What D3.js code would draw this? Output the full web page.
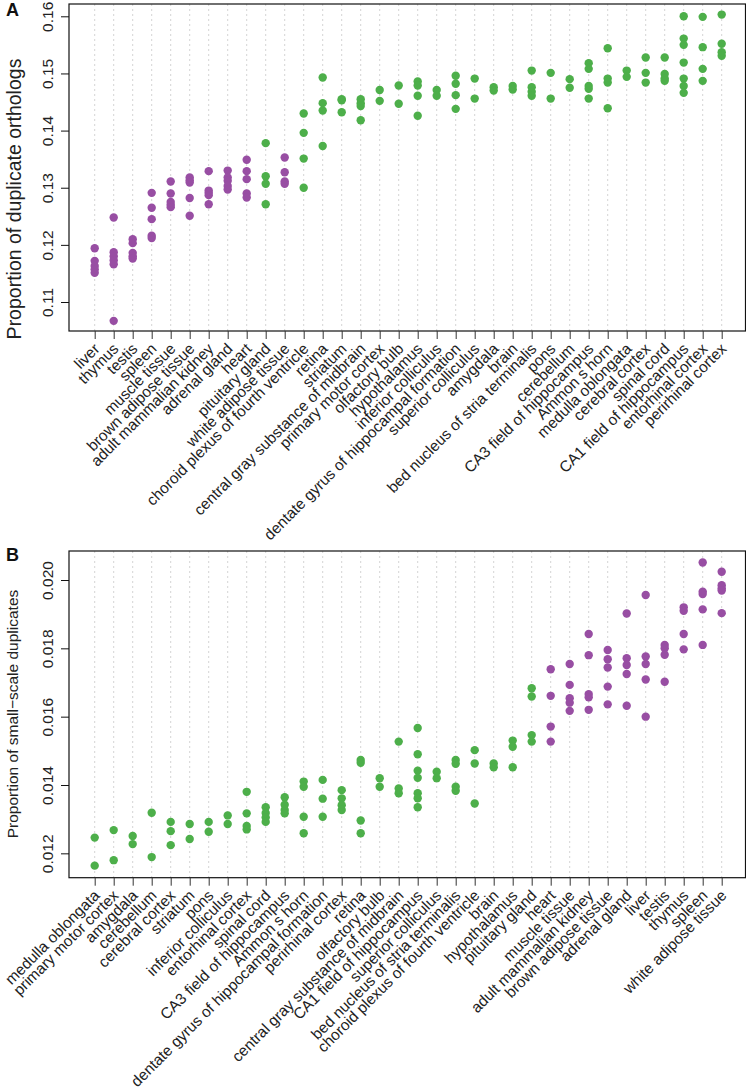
<!DOCTYPE html>
<html><head><meta charset="utf-8">
<script src="https://cdn.jsdelivr.net/npm/d3@7"></script>
<style>body{margin:0;background:#fff}svg{display:block}text{font-family:"Liberation Sans",Arial,Helvetica,sans-serif}</style>
</head><body>
<svg id="chart" width="746" height="1090"></svg>
<script>
// ---------- Panel A data ----------
const catsA = ["liver","thymus","testis","spleen","muscle tissue","brown adipose tissue","adult mammalian kidney","adrenal gland","heart","pituitary gland","white adipose tissue","choroid plexus of fourth ventricle","retina","striatum","central gray substance of midbrain","primary motor cortex","olfactory bulb","hypothalamus","inferior colliculus","dentate gyrus of hippocampal formation","superior colliculus","amygdala","brain","bed nucleus of stria terminalis","pons","cerebellum","CA3 field of hippocampus","Ammon s horn","medulla oblongata","cerebral cortex","spinal cord","CA1 field of hippocampus","entorhinal cortex","perirhinal cortex"];
const groupA = ["o","o","o","o","o","o","o","o","o","n","o","n","n","n","n","n","n","n","n","n","n","n","n","n","n","n","n","n","n","n","n","n","n","n"];
const valuesA = [
  [0.1194,0.1172,0.1163,0.1157,0.1151],
  [0.1248,0.1187,0.1180,0.1173,0.1166,0.1067],
  [0.1210,0.1203,0.1186,0.1180,0.1176],
  [0.1291,0.1265,0.1245,0.1216,0.1212],
  [0.1311,0.1290,0.1275,0.1270,0.1266],
  [0.1318,0.1313,0.1309,0.1282,0.1251],
  [0.1329,0.1295,0.1291,0.1287,0.1271],
  [0.1330,0.1318,0.1312,0.1303,0.1297],
  [0.1349,0.1329,0.1315,0.1290,0.1283],
  [0.1378,0.1320,0.1307,0.1271],
  [0.1353,0.1327,0.1311,0.1307],
  [0.1430,0.1396,0.1351,0.1300],
  [0.1493,0.1448,0.1435,0.1373],
  [0.1455,0.1453,0.1432],
  [0.1455,0.1448,0.1443,0.1418],
  [0.1471,0.1452],
  [0.1479,0.1447],
  [0.1486,0.1479,0.1461,0.1426],
  [0.1471,0.1461],
  [0.1496,0.1482,0.1462,0.1438],
  [0.1491,0.1456],
  [0.1476,0.1470],
  [0.1478,0.1472],
  [0.1505,0.1476,0.1468,0.1461],
  [0.1501,0.1456],
  [0.1490,0.1475],
  [0.1518,0.1508,0.1478,0.1473,0.1456],
  [0.1544,0.1491,0.1484,0.1439],
  [0.1505,0.1494],
  [0.1528,0.1501,0.1484],
  [0.1528,0.1499,0.1491,0.1487],
  [0.1600,0.1561,0.1550,0.1519,0.1491,0.1478,0.1466],
  [0.1599,0.1546,0.1508,0.1487],
  [0.1603,0.1552,0.1537,0.1531]
];
const ticksA = [0.11,0.12,0.13,0.14,0.15,0.16];
const titleA = "Proportion of duplicate orthologs";

// ---------- Panel B data ----------
const catsB = ["medulla oblongata","primary motor cortex","amygdala","cerebellum","cerebral cortex","striatum","pons","inferior colliculus","entorhinal cortex","spinal cord","CA3 field of hippocampus","Ammon s horn","dentate gyrus of hippocampal formation","perirhinal cortex","retina","olfactory bulb","central gray substance of midbrain","CA1 field of hippocampus","superior colliculus","bed nucleus of stria terminalis","choroid plexus of fourth ventricle","brain","hypothalamus","pituitary gland","heart","muscle tissue","adult mammalian kidney","brown adipose tissue","adrenal gland","liver","testis","thymus","spleen","white adipose tissue"];
const groupB = ["n","n","n","n","n","n","n","n","n","n","n","n","n","n","n","n","n","n","n","n","n","n","n","n","o","o","o","o","o","o","o","o","o","o"];
const valuesB = [
  [0.01246,0.01164],
  [0.01268,0.01180],
  [0.01251,0.01227],
  [0.01319,0.01189],
  [0.01292,0.01265,0.01224],
  [0.01286,0.01242],
  [0.01292,0.01263],
  [0.01311,0.01286],
  [0.01380,0.01317,0.01280,0.01270],
  [0.01335,0.01318,0.01305,0.01292],
  [0.01364,0.01342,0.01327,0.01317],
  [0.01410,0.01395,0.01307,0.01259],
  [0.01415,0.01360,0.01307],
  [0.01385,0.01361,0.01341,0.01327],
  [0.01473,0.01465,0.01296,0.01259],
  [0.01420,0.01395],
  [0.01527,0.01390,0.01376],
  [0.01567,0.01490,0.01442,0.01421,0.01376,0.01361,0.01335],
  [0.01439,0.01420],
  [0.01473,0.01462,0.01395,0.01383],
  [0.01502,0.01463,0.01346],
  [0.01463,0.01452],
  [0.01530,0.01512,0.01452],
  [0.01683,0.01659,0.01546,0.01527],
  [0.01739,0.01661,0.01571,0.01527],
  [0.01754,0.01693,0.01654,0.01641,0.01617],
  [0.01842,0.01780,0.01666,0.01657,0.01620],
  [0.01795,0.01768,0.01744,0.01688,0.01636],
  [0.01902,0.01771,0.01751,0.01725,0.01632],
  [0.01956,0.01776,0.01754,0.01709,0.01600],
  [0.01810,0.01800,0.01781,0.01702],
  [0.01920,0.01910,0.01842,0.01797],
  [0.02051,0.01966,0.01959,0.01914,0.01810],
  [0.02024,0.01985,0.01976,0.01969,0.01903]
];
const ticksB = [0.012,0.014,0.016,0.018,0.020];
const titleB = "Proportion of small\u2212scale duplicates";

const colorOf = {o:"#984EA3", n:"#4DAF4A"};

const svg = d3.select("#chart");

function panel(cfg){
  const {cats, groups, values, ticks, fmt, top, bottom, dom, title, titleSize, titleY, letter, letterY} = cfg;
  const left = 69, right = 745.5;
  const x = d3.scalePoint().domain(cats).range([94.7, 721.7]);
  const y = d3.scaleLinear().domain(dom).range([bottom, top]);
  const g = svg.append("g");

  // grid
  g.selectAll(".grid").data(cats).join("line")
    .attr("x1", d=>x(d)).attr("x2", d=>x(d))
    .attr("y1", top).attr("y2", bottom)
    .attr("stroke","#c8c8c8").attr("stroke-width",0.8).attr("stroke-dasharray","2,3");

  // points
  const pts = [];
  values.forEach((arr,i)=>arr.forEach(v=>pts.push({c:cats[i], v, grp:groups[i]})));
  g.selectAll(".pt").data(pts).join("circle")
    .attr("cx", d=>x(d.c)).attr("cy", d=>y(d.v)).attr("r",4.2)
    .attr("fill", d=>colorOf[d.grp]);

  // box
  g.append("rect").attr("x",left).attr("y",top).attr("width",right-left).attr("height",bottom-top)
    .attr("fill","none").attr("stroke","#111").attr("stroke-width",1.2);

  // y axis
  const ya = g.append("g").attr("transform",`translate(${left},0)`)
    .call(d3.axisLeft(y).tickValues(ticks).tickSize(8).tickFormat(fmt));
  ya.select(".domain").remove();
  ya.selectAll(".tick line").attr("stroke","#111");
  ya.selectAll(".tick text")
    .attr("x",0).attr("y",0).attr("dy",0).attr("dx",0)
    .attr("text-anchor","middle")
    .attr("transform","translate(-16,0) rotate(-90)")
    .attr("font-size",15.5).attr("fill","#222").attr("font-family","Liberation Sans, Arial, sans-serif");

  // x axis
  const xa = g.append("g").attr("transform",`translate(0,${bottom})`)
    .call(d3.axisBottom(x).tickSize(8).tickFormat(""));
  xa.select(".domain").remove();
  xa.selectAll(".tick line").attr("stroke","#333");
  g.selectAll(".xl").data(cats).join("text")
    .attr("transform", d=>`translate(${x(d)+2},${bottom+15}) rotate(-45)`)
    .attr("text-anchor","end").attr("dy","0.35em")
    .attr("font-size",15.4).attr("fill","#222")
    .text(d=>d);

  // title
  g.append("text").attr("transform",`translate(${cfg.titleX},${titleY}) rotate(-90)`)
    .attr("text-anchor","middle").attr("font-size",titleSize).attr("fill","#222").text(title);

  // panel letter
  g.append("text").attr("x",6).attr("y",letterY).attr("font-size",18).attr("font-weight","bold")
    .attr("fill","#111").text(letter);
}

panel({cats:catsA, groups:groupA, values:valuesA, ticks:ticksA, fmt:d3.format(".2f"),
  top:4, bottom:331, dom:[0.16-(331-16.3)/5714, 0.16+(16.3-4)/5714],
  title:titleA, titleSize:19.5, titleX:21, titleY:199, letter:"A", letterY:16});

panel({cats:catsB, groups:groupB, values:valuesB, ticks:ticksB, fmt:d3.format(".3f"),
  top:551, bottom:877.7, dom:[0.020-(877.7-580)/34167, 0.020+(580-551)/34167],
  title:titleB, titleSize:15.5, titleX:18, titleY:714, letter:"B", letterY:561});
</script>
</body></html>
